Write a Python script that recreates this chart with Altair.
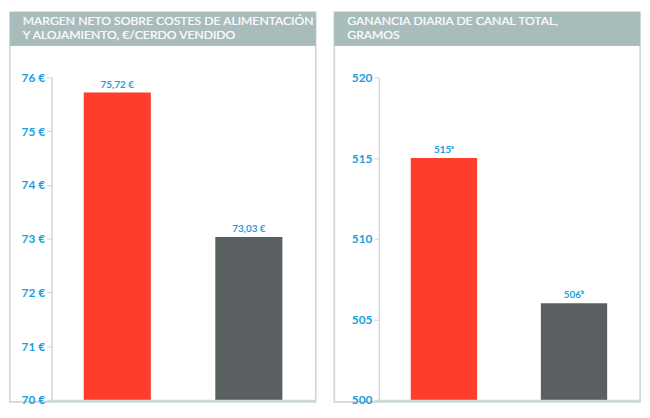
import altair as alt
import pandas as pd

# ---- data ----
groups = ["A", "B"]
margin_values = [75.72, 73.03]
margin_labels = ["75,72 €", "73,03 €"]
gain_values = [515, 506]
gain_labels = ["515ᵃ", "506ᵇ"]
bar_colors = ["#ff3d2b", "#5a6061"]

title_left = ["MARGEN NETO SOBRE COSTES DE ALIMENTACIÓN", "Y ALOJAMIENTO, €/CERDO VENDIDO"]
title_right = ["GANANCIA DIARIA DE CANAL TOTAL,", "GRAMOS"]

H = 326
BLUE = "#1a9fdc"
HEADER = "#a9bcbc"
FRAME = "#cdd8d8"
FONT = "Lato"


def panel(values, labels, domain, ticks, tick_fmt, title_lines, W, left_off):
    df = pd.DataFrame({"g": groups, "v": values, "lab": labels, "c": bar_colors})
    x = alt.X("g:N", sort=groups,
              scale=alt.Scale(paddingInner=0.49, paddingOuter=0.245),
              axis=alt.Axis(labels=False, ticks=False, title=None, domainColor=FRAME,
                            domainWidth=1.5, zindex=1))
    y = alt.Y("v:Q", scale=alt.Scale(domain=domain, nice=False, zero=False),
              axis=alt.Axis(values=ticks, labelExpr=tick_fmt, title=None, grid=False,
                            domainColor=FRAME, domainWidth=1.5, tickColor=FRAME,
                            tickSize=5, labelColor=BLUE, labelFont=FONT,
                            labelFontWeight="bold", labelFontSize=12, labelPadding=2,
                            zindex=1))
    base = alt.Chart(df)
    frame = base.mark_rect(fill="white", stroke=FRAME, strokeWidth=1.5).encode(
        x=alt.value(-left_off), x2=alt.value(W + 1), y=alt.value(-66), y2=alt.value(H + 2))
    header = base.mark_rect(fill=HEADER).encode(
        x=alt.value(-left_off), x2=alt.value(W + 1), y=alt.value(-66), y2=alt.value(-32))
    t1 = base.mark_text(align="left", baseline="alphabetic", color="#f4f7f7",
                        font=FONT, fontSize=12.3).encode(
        x=alt.value(-left_off + 13), y=alt.value(-53), text=alt.value(title_lines[0]))
    t2 = base.mark_text(align="left", baseline="alphabetic", color="#f4f7f7",
                        font=FONT, fontSize=12.3).encode(
        x=alt.value(-left_off + 13), y=alt.value(-39), text=alt.value(title_lines[1]))
    bars = base.mark_bar().encode(
        x=x, y=y, y2=alt.datum(domain[0]), color=alt.Color("c:N", scale=None))
    text = base.mark_text(baseline="bottom", dy=-3, color=BLUE, font=FONT,
                          fontWeight="bold", fontSize=10).encode(
        x=alt.X("g:N", sort=groups), y="v:Q", text="lab:N")
    return alt.layer(frame, header, t1, t2, bars, text).properties(width=W, height=H)


left = panel(margin_values, margin_labels, [70, 76], [70, 71, 72, 73, 74, 75, 76],
             "datum.value + ' €'", title_left, 266, 42)
right = panel(gain_values, gain_labels, [500, 520], [500, 505, 510, 515, 520],
              "datum.label", title_right, 263, 45)

chart = alt.hconcat(left, right, spacing=15).properties(
    padding={"left": 0, "top": 0, "right": 0, "bottom": 0}
).configure_view(stroke=None).configure(background="white")

chart.save("out.html", embed_options={"renderer": "svg", "actions": False})
